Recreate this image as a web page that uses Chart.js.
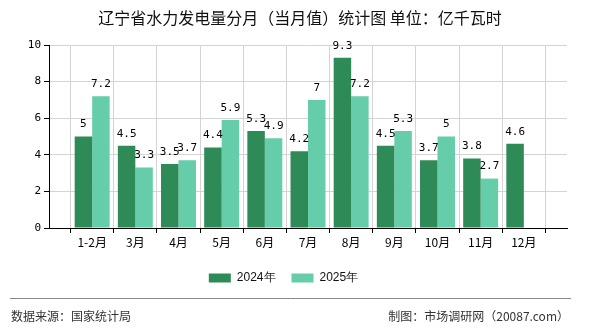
<!DOCTYPE html>
<html>
<head>
<meta charset="utf-8">
<script src="https://cdn.jsdelivr.net/npm/chart.js@4/dist/chart.umd.min.js"></script>
<style>
    body { margin: 0; background: #fff; }
    #wrap { width: 590px; height: 330px; position: relative; }
</style>
</head>
<body>
<div id="wrap"><canvas id="hydroChart" width="590" height="330"></canvas></div>
<script>
// Liaoning hydro power output by month (monthly value), 100 million kWh

const months = ['', '1-2月', '3月', '4月', '5月', '6月', '7月', '8月', '9月', '10月', '11月', '12月', ''];
const series2024 = [null, 5, 4.5, 3.5, 4.4, 5.3, 4.2, 9.3, 4.5, 3.7, 3.8, 4.6, null];
const series2025 = [null, 7.2, 3.3, 3.7, 5.9, 4.9, 7, 7.2, 5.3, 5, 2.7, null, null];
const yTicks = [0, 2, 4, 6, 8, 10];

const titleText = '辽宁省水力发电量分月（当月值）统计图 单位：亿千瓦时';
const sourceText = '数据来源：国家统计局';
const creditText = '制图：市场调研网（20087.com）';

const cjkFont = "'Noto Sans CJK SC', 'Noto Sans', sans-serif";

// Title, value labels above bars, footer
const extrasPlugin = {
    id: 'extras',
    afterDatasetsDraw(chart) {
        const ctx = chart.ctx;
        ctx.save();
        ctx.font = "11px 'DejaVu Sans Mono', monospace";
        ctx.fillStyle = '#000';
        ctx.textAlign = 'center';
        ctx.textBaseline = 'middle';
        chart.data.datasets.forEach((ds, di) => {
            const meta = chart.getDatasetMeta(di);
            meta.data.forEach((bar, i) => {
                const v = ds.data[i];
                if (v === null || v === undefined) return;
                ctx.fillText(String(v), bar.x, bar.y - 12);
            });
        });
        ctx.restore();
    },
    afterDraw(chart) {
        const ctx = chart.ctx;
        ctx.save();
        // title
        ctx.font = '16px ' + cjkFont;
        ctx.fillStyle = '#111';
        ctx.textAlign = 'center';
        ctx.textBaseline = 'middle';
        ctx.fillText(titleText, 300, 18);
        // footer
        ctx.strokeStyle = '#888';
        ctx.lineWidth = 1;
        ctx.beginPath();
        ctx.moveTo(10, 298.5);
        ctx.lineTo(571, 298.5);
        ctx.stroke();
        ctx.font = '12px ' + cjkFont;
        ctx.fillStyle = '#333';
        ctx.textAlign = 'left';
        ctx.fillText(sourceText, 11, 316);
        ctx.textAlign = 'right';
        ctx.fillText(creditText, 569, 316);
        ctx.restore();
    }
};

new Chart(document.getElementById('hydroChart'), {
    type: 'bar',
    data: {
        labels: months,
        datasets: [
            {
                label: '2024年',
                data: series2024,
                backgroundColor: '#2e8b57',
                categoryPercentage: 0.81,
                barPercentage: 1.0
            },
            {
                label: '2025年',
                data: series2025,
                backgroundColor: '#66cdaa',
                categoryPercentage: 0.81,
                barPercentage: 1.0
            }
        ]
    },
    options: {
        responsive: false,
        animation: false,
        layout: {
            padding: { left: 0, right: 23, top: 45, bottom: 36 }
        },
        plugins: {
            title: { display: false },
            legend: {
                position: 'bottom',
                labels: {
                    boxWidth: 22,
                    boxHeight: 9,
                    color: '#111',
                    padding: 16,
                    font: { family: "'Liberation Sans', sans-serif", size: 12 }
                }
            },
            tooltip: { enabled: false }
        },
        scales: {
            x: {
                offset: false,
                grid: {
                    color: '#d4d4d4',
                    tickColor: '#000',
                    tickLength: 5
                },
                border: { color: '#000' },
                ticks: {
                    color: '#000',
                    autoSkip: false,
                    maxRotation: 0,
                    padding: 2,
                    font: { family: cjkFont, size: 12 }
                },
                afterFit: (scale) => { scale.height = 28; }
            },
            y: {
                min: 0,
                max: 10,
                afterBuildTicks: (scale) => {
                    scale.ticks = yTicks.map(v => ({ value: v }));
                },
                grid: {
                    color: '#d4d4d4',
                    tickColor: '#000',
                    tickLength: 5
                },
                border: { color: '#000' },
                ticks: {
                    color: '#000',
                    padding: 3,
                    font: { family: "'DejaVu Sans Mono', monospace", size: 11 }
                },
                afterFit: (scale) => { scale.width = 49; }
            }
        }
    },
    plugins: [extrasPlugin]
});
</script>
</body>
</html>
